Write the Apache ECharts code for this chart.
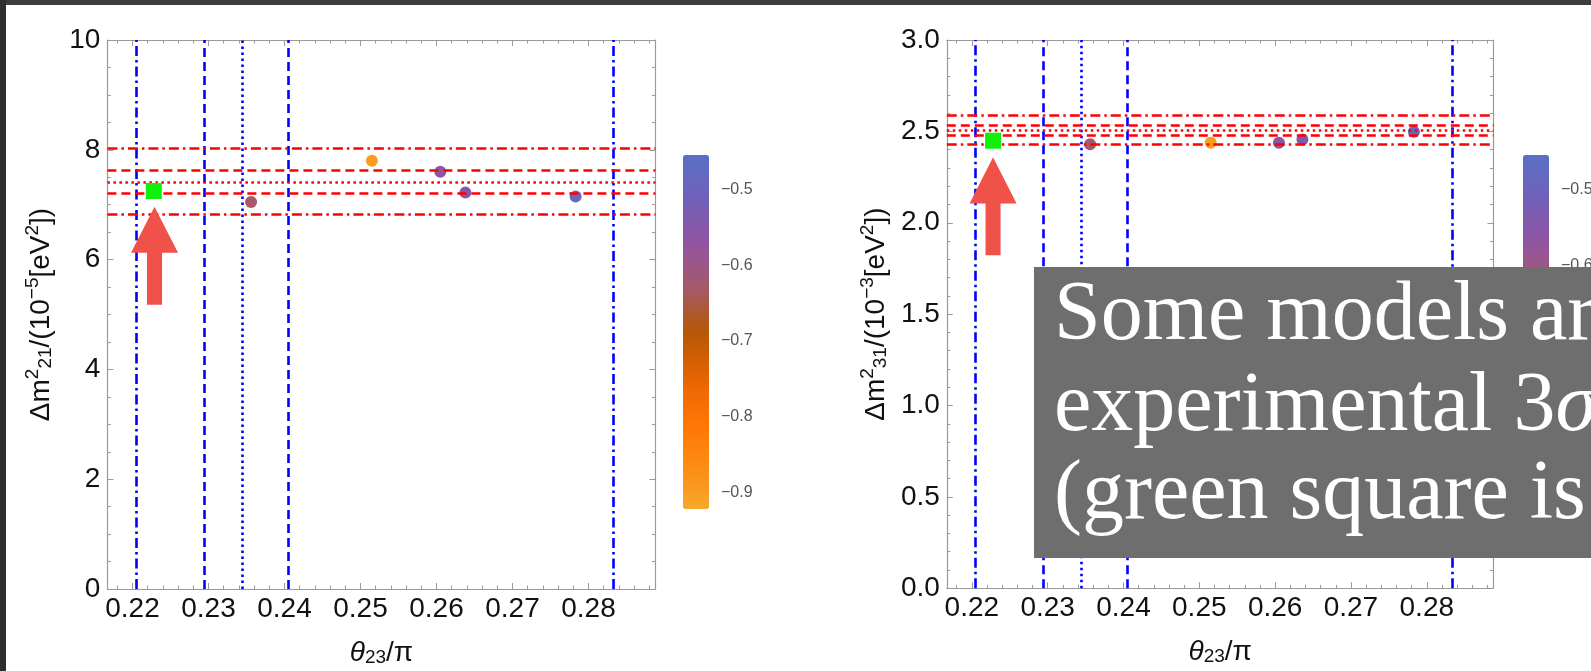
<!DOCTYPE html>
<html>
<head>
<meta charset="utf-8">
<script src="https://cdn.jsdelivr.net/npm/echarts@6/dist/echarts.min.js"></script>
<style>
  html, body { margin: 0; padding: 0; background: #fff; }
  #chart { width: 1591px; height: 671px; }
</style>
</head>
<body>
<div id="chart"></div>
<script>
// theta23/pi axis, shared by both panels
const xRange = [0.2167, 0.2888];
const xMajorTicks = [0.22, 0.23, 0.24, 0.25, 0.26, 0.27, 0.28];
const xMinorTicks = [0.218, 0.222, 0.224, 0.226, 0.228, 0.232, 0.234, 0.236, 0.238,
  0.242, 0.244, 0.246, 0.248, 0.252, 0.254, 0.256, 0.258, 0.262, 0.264, 0.266, 0.268,
  0.272, 0.274, 0.276, 0.278, 0.282, 0.284, 0.286, 0.288];

// blue lines: 3 sigma / 1 sigma / best fit of theta23
const theta23Lines = [0.2205, 0.2294, 0.2344, 0.2405, 0.2833];
const theta23Styles = ['dashdot', 'dashed', 'dotted', 'dashed', 'dashdot'];

// left panel: dm21^2 / 1e-5 eV^2
const dm21Range = [0, 10];
const dm21MajorTicks = [0, 2, 4, 6, 8, 10];
const dm21MinorTicks = [0.5, 1, 1.5, 2.5, 3, 3.5, 4.5, 5, 5.5, 6.5, 7, 7.5, 8.5, 9, 9.5];
const dm21Lines = [6.82, 7.21, 7.41, 7.62, 8.03];
const dm21Styles = ['dashdot', 'dashed', 'dotted', 'dashed', 'dashdot'];
// [theta23/pi, dm21, colour value]
const dm21Models = [
  [0.2356, 7.05, -0.63],
  [0.2515, 7.80, -0.90],
  [0.2605, 7.60, -0.57],
  [0.2638, 7.22, -0.55],
  [0.2783, 7.15, -0.49]
];
const dm21Best = [[0.2228, 7.25]];
const dm21Arrow = [[0.2229, 6.07]];

// right panel: dm31^2 / 1e-3 eV^2
const dm31Range = [0, 3];
const dm31MajorTicks = [0, 0.5, 1, 1.5, 2, 2.5, 3];
const dm31MinorTicks = [0.1, 0.2, 0.3, 0.4, 0.6, 0.7, 0.8, 0.9, 1.1, 1.2, 1.3, 1.4,
  1.6, 1.7, 1.8, 1.9, 2.1, 2.2, 2.3, 2.4, 2.6, 2.7, 2.8, 2.9];
const dm31Lines = [2.427, 2.478, 2.505, 2.533, 2.591];
const dm31Styles = ['dashdot', 'dashed', 'dotted', 'dashed', 'dashdot'];
const dm31Models = [
  [0.2356, 2.429, -0.63],
  [0.2515, 2.438, -0.90],
  [0.2605, 2.438, -0.57],
  [0.2636, 2.456, -0.55],
  [0.2783, 2.498, -0.49]
];
const dm31Best = [[0.2228, 2.449]];
const dm31Arrow = [[0.2228, 2.09]];

// colour bar
const colorRange = [-0.922, -0.454];
const colorTicks = [-0.9, -0.8, -0.7, -0.6, -0.5];
const colorMinorTicks = [-0.92, -0.9, -0.88, -0.86, -0.84, -0.82, -0.8, -0.78, -0.76,
  -0.74, -0.72, -0.7, -0.68, -0.66, -0.64, -0.62, -0.6, -0.58, -0.56, -0.54, -0.52,
  -0.5, -0.48, -0.46];
const colorStops = ['#F7A82B', '#FC8B14', '#FF7404', '#E46402', '#B65705',
  '#A5596A', '#9254A0', '#7160B8', '#5B70C8'];

const dashPatterns = {
  dashed: [9, 5],
  dotted: [2.5, 3.5],
  dashdot: [10, 4, 2.5, 4]
};

const FRAME = '#9a9a9a';
const SANS = '"Liberation Sans", Arial, sans-serif';
const SERIF = '"Liberation Serif", serif';
const arrowPath = 'path://M50,0 L100,47 L66,47 L66,100 L34,100 L34,47 L0,47 Z';

// rich styles for sub/superscripts in axis names
const richName = {
  b: { fontSize: 28, lineHeight: 32, verticalAlign: 'bottom', fontFamily: SANS, color: '#111' },
  i: { fontSize: 28, lineHeight: 32, verticalAlign: 'bottom', fontFamily: SANS, fontStyle: 'italic', color: '#111' },
  sub: { fontSize: 19, lineHeight: 19, verticalAlign: 'bottom', fontFamily: SANS, color: '#111' },
  sup: { fontSize: 19, lineHeight: 19, verticalAlign: 'top', fontFamily: SANS, color: '#111' }
};

// four axes making the frame: main (labels), main minor, opposite, opposite minor
function frameAxes(dim, gridIndex, range, majors, minors, fmt, name, nameGap) {
  const sides = dim === 'x' ? ['bottom', 'top'] : ['left', 'right'];
  const base = (pos, ticks, len, lineShow) => ({
    type: 'value',
    gridIndex: gridIndex,
    position: pos,
    min: range[0],
    max: range[1],
    axisLine: { show: lineShow, onZero: false, lineStyle: { color: FRAME, width: 1.2 } },
    axisTick: { show: true, inside: true, length: len, customValues: ticks, lineStyle: { color: FRAME, width: 1 } },
    axisLabel: { show: false },
    splitLine: { show: false }
  });
  const main = base(sides[0], majors, 6, true);
  main.axisLabel = {
    show: true,
    customValues: majors,
    formatter: fmt,
    color: '#111',
    fontSize: 28,
    fontFamily: SANS,
    margin: dim === 'x' ? 6 : 7
  };
  main.name = name;
  main.nameLocation = 'middle';
  main.nameGap = nameGap;
  main.nameTextStyle = { rich: richName };
  return [
    main,
    base(sides[0], minors, 3.5, false),
    base(sides[1], majors, 6, true),
    base(sides[1], minors, 3.5, false)
  ];
}

function boundSeries(xi, values, styles, color, z) {
  return {
    type: 'line',
    xAxisIndex: xi,
    yAxisIndex: xi,
    data: [],
    z: z,
    markLine: {
      silent: true,
      precision: 4,
      symbol: ['none', 'none'],
      label: { show: false },
      animation: false,
      data: values.map((v, i) => {
        const item = color === 'blue' ? { xAxis: v } : { yAxis: v };
        item.lineStyle = {
          color: color === 'blue' ? '#0000ff' : '#ff0000',
          width: 2.6,
          type: dashPatterns[styles[i]],
          cap: 'butt'
        };
        return item;
      })
    }
  };
}

function panelSeries(xi, hLines, hStyles, models, best, arrow) {
  return [
    boundSeries(xi, theta23Lines, theta23Styles, 'blue', 2),
    boundSeries(xi, hLines, hStyles, 'red', 3),
    {
      type: 'scatter', xAxisIndex: xi, yAxisIndex: xi, z: 4,
      symbolSize: 12, itemStyle: { opacity: 1 }, data: models
    },
    {
      type: 'scatter', xAxisIndex: xi, yAxisIndex: xi, z: 5,
      symbol: 'rect', symbolSize: 16, itemStyle: { color: '#0ff00a', opacity: 1 }, data: best
    },
    {
      type: 'scatter', xAxisIndex: xi, yAxisIndex: xi, z: 6,
      symbol: arrowPath, symbolSize: [47, 98], itemStyle: { color: '#f0524a', opacity: 1 }, data: arrow
    }
  ];
}

function colorAxis(gridIndex) {
  return {
    type: 'value',
    gridIndex: gridIndex,
    position: 'right',
    min: colorRange[0],
    max: colorRange[1],
    axisLine: { show: false },
    axisTick: { show: true, inside: false, length: 4, customValues: colorMinorTicks, lineStyle: { color: '#c8c8c8' } },
    axisLabel: {
      customValues: colorTicks,
      formatter: v => '\u2212' + Math.abs(v).toFixed(1),
      color: '#555',
      fontSize: 16,
      fontFamily: SANS,
      margin: 12
    },
    splitLine: { show: false }
  };
}

function colorMap(seriesIndex, left) {
  return {
    type: 'continuous',
    seriesIndex: seriesIndex,
    dimension: 2,
    min: colorRange[0],
    max: colorRange[1],
    inRange: { color: colorStops },
    orient: 'vertical',
    left: left,
    top: 155,
    itemWidth: 26,
    itemHeight: 354,
    padding: 0,
    calculable: false,
    text: null,
    showLabel: false
  };
}

const xName = '{i|θ}{sub|23}{b|/π}';
const y21Name = '{b|Δm}{sup|2}{sub|21}{b|/(10}{sup|\u22125}{b|[eV}{sup|2}{b|])}';
const y31Name = '{b|Δm}{sup|2}{sub|31}{b|/(10}{sup|\u22123}{b|[eV}{sup|2}{b|])}';

const chart = echarts.init(document.getElementById('chart'));

const option = {
  backgroundColor: '#ffffff',
  animation: false,
  grid: [
    { left: 107.4, top: 40, width: 548, height: 549, outerBoundsMode: 'none' },
    { left: 946.8, top: 40, width: 546.7, height: 548.3, outerBoundsMode: 'none' },
    { left: 683, top: 155, width: 26, height: 354, outerBoundsMode: 'none' },
    { left: 1523, top: 155, width: 26, height: 354, outerBoundsMode: 'none' }
  ],
  xAxis: [
    ...frameAxes('x', 0, xRange, xMajorTicks, xMinorTicks, v => v.toFixed(2), xName, 46),
    ...frameAxes('x', 1, xRange, xMajorTicks, xMinorTicks, v => v.toFixed(2), xName, 46),
    { type: 'value', gridIndex: 2, show: false, min: 0, max: 1 },
    { type: 'value', gridIndex: 3, show: false, min: 0, max: 1 }
  ],
  yAxis: [
    ...frameAxes('y', 0, dm21Range, dm21MajorTicks, dm21MinorTicks, v => String(v), y21Name, 52),
    ...frameAxes('y', 1, dm31Range, dm31MajorTicks, dm31MinorTicks, v => v.toFixed(1), y31Name, 57),
    colorAxis(2),
    colorAxis(3)
  ],
  visualMap: [colorMap(2, 683), colorMap(7, 1523)],
  series: [
    ...panelSeries(0, dm21Lines, dm21Styles, dm21Models, dm21Best, dm21Arrow),
    ...panelSeries(4, dm31Lines, dm31Styles, dm31Models, dm31Best, dm31Arrow)
  ],
  graphic: [
    { type: 'rect', z: 100, shape: { x: 0, y: 0, width: 1591, height: 5 }, style: { fill: '#3c3c3c' } },
    { type: 'rect', z: 100, shape: { x: 0, y: 0, width: 6, height: 671 }, style: { fill: '#2e2e2e' } },
    { type: 'rect', z: 100, shape: { x: 1034, y: 267, width: 560, height: 291 }, style: { fill: '#6e6e6e' } },
    {
      type: 'text', z: 101, x: 1054, y: 317,
      style: { text: 'Some models are', fill: '#fff', font: '84px ' + SERIF, verticalAlign: 'middle' }
    },
    {
      type: 'text', z: 101, x: 1054, y: 408,
      style: {
        text: '{n|experimental 3}{i|σ}',
        verticalAlign: 'middle',
        rich: {
          n: { fill: '#fff', fontSize: 84, fontFamily: SERIF },
          i: { fill: '#fff', fontSize: 84, fontFamily: SERIF, fontStyle: 'italic' }
        }
      }
    },
    {
      type: 'text', z: 101, x: 1054, y: 496,
      style: { text: '(green square is', fill: '#fff', font: '84px ' + SERIF, verticalAlign: 'middle' }
    }
  ]
};

chart.setOption(option);
</script>
</body>
</html>
